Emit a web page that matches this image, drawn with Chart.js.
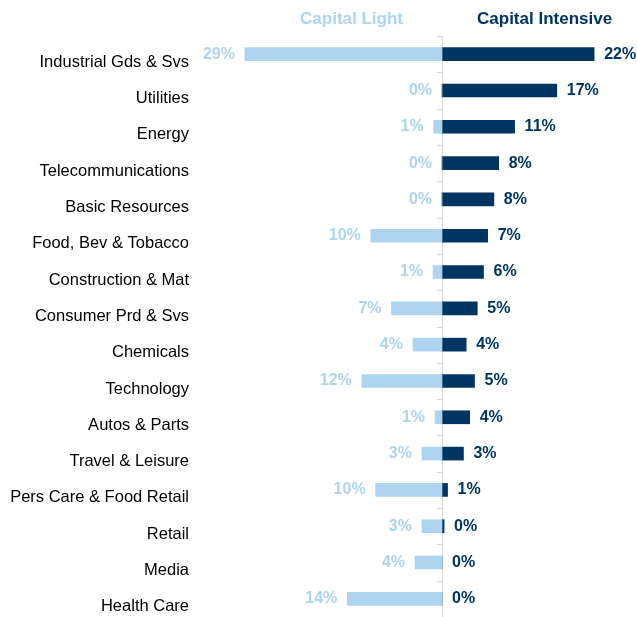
<!DOCTYPE html>
<html>
<head>
<meta charset="utf-8">
<script src="https://cdn.jsdelivr.net/npm/chart.js@4"></script>
<style>
  body { margin: 0; background: #fff; overflow: hidden; }
  canvas { display: block; }
</style>
</head>
<body>
<canvas id="sectorChart" width="637" height="617"></canvas>
<script>
const categories = [
  'Industrial Gds & Svs', 'Utilities', 'Energy', 'Telecommunications',
  'Basic Resources', 'Food, Bev & Tobacco', 'Construction & Mat',
  'Consumer Prd & Svs', 'Chemicals', 'Technology', 'Autos & Parts',
  'Travel & Leisure', 'Pers Care & Food Retail', 'Retail', 'Media', 'Health Care'
];
const capitalLight = [28.5, 0, 1.2, 0, 0, 10.3, 1.3, 7.3, 4.2, 11.6, 1.0, 2.9, 9.6, 2.9, 3.9, 13.7];
const capitalIntensive = [22, 16.6, 10.5, 8.2, 7.5, 6.6, 6.0, 5.1, 3.5, 4.7, 4.0, 3.1, 0.8, 0.3, 0, 0];

const lightBlue = '#AED4F0';
const navy = '#003461';
const font = '"Liberation Sans", Arial, sans-serif';

// zero axis, boundary ticks, column headers and value labels
const decorations = {
  id: 'decorations',
  beforeDatasetsDraw(chart) {
    const ctx = chart.ctx;
    const x0 = Math.round(chart.scales.x.getPixelForValue(0));
    const ys = chart.scales.y;
    const band = (ys.bottom - ys.top) / categories.length;
    ctx.save();
    ctx.strokeStyle = '#D9D9D9';
    ctx.lineWidth = 1;
    ctx.beginPath();
    ctx.moveTo(x0 + 0.5, ys.top);
    ctx.lineTo(x0 + 0.5, ys.bottom);
    for (let i = 0; i <= categories.length; i++) {
      const y = Math.round(ys.top + i * band) + 0.5;
      ctx.moveTo(x0 - 5, y);
      ctx.lineTo(x0, y);
    }
    ctx.stroke();
    ctx.restore();
  },
  afterDatasetsDraw(chart) {
    const ctx = chart.ctx;
    const xs = chart.scales.x;
    const x0 = xs.getPixelForValue(0);
    ctx.save();
    ctx.font = 'bold 17px ' + font;
    ctx.textBaseline = 'middle';
    ctx.fillStyle = lightBlue;
    ctx.textAlign = 'right';
    ctx.fillText('Capital Light', x0 - 39, 19);
    ctx.fillStyle = navy;
    ctx.textAlign = 'left';
    ctx.fillText('Capital Intensive', x0 + 35, 19);

    ctx.font = 'bold 16px ' + font;
    chart.getDatasetMeta(0).data.forEach((bar, i) => {
      ctx.fillStyle = lightBlue;
      ctx.textAlign = 'right';
      ctx.fillText(Math.round(capitalLight[i]) + '%', xs.getPixelForValue(-capitalLight[i]) - 10, bar.y);
    });
    chart.getDatasetMeta(1).data.forEach((bar, i) => {
      ctx.fillStyle = navy;
      ctx.textAlign = 'left';
      ctx.fillText(Math.round(capitalIntensive[i]) + '%', xs.getPixelForValue(capitalIntensive[i]) + 10, bar.y);
    });
    ctx.restore();
  }
};

const ctx = document.getElementById('sectorChart').getContext('2d');
const chart = new Chart(ctx, {
  type: 'bar',
  data: {
    labels: categories,
    datasets: [
      {
        label: 'Capital Light',
        data: capitalLight.map(v => -v),
        backgroundColor: lightBlue,
        barThickness: 13,
        grouped: false,
      },
      {
        label: 'Capital Intensive',
        data: capitalIntensive,
        backgroundColor: navy,
        barThickness: 13,
        grouped: false,
      },
    ],
  },
  options: {
    indexAxis: 'y',
    responsive: false,
    animation: false,
    layout: { padding: { top: 36, right: 0, bottom: 0, left: 0 } },
    plugins: {
      legend: { display: false },
      tooltip: { enabled: false },
    },
    scales: {
      x: {
        display: false,
        min: -35,
        max: 28.2,
      },
      y: {
        grid: { display: false, drawTicks: false },
        border: { display: false },
        ticks: {
          color: '#000',
          font: { family: font, size: 16.5 },
          padding: 11,
          labelOffset: 8,
          autoSkip: false,
        },
        afterFit(scale) {
          scale.width = 200;
          scale.paddingTop = 0;
          scale.paddingBottom = 0;
        },
      },
    },
  },
  plugins: [decorations],
});
</script>
</body>
</html>
